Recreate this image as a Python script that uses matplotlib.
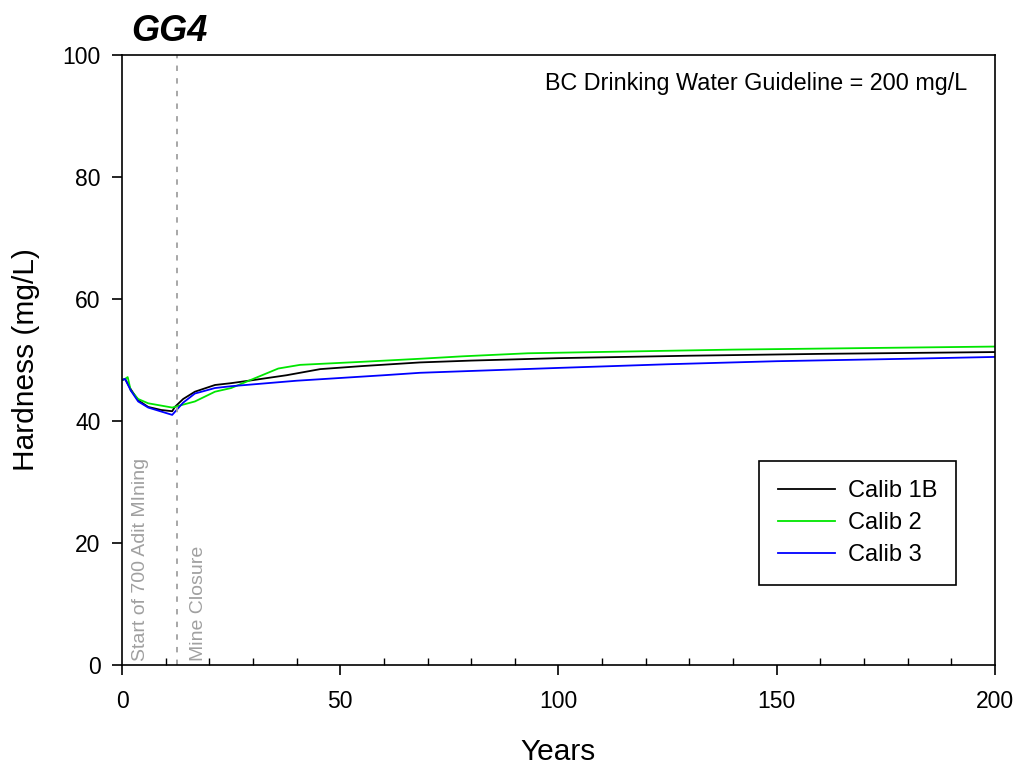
import matplotlib
matplotlib.use("Agg")
import matplotlib.pyplot as plt
from matplotlib.ticker import MultipleLocator

plt.rcParams['font.family'] = ['Liberation Sans', 'DejaVu Sans']

# hardness time series (years, mg/L)
years_1b = [0, 0.7, 2, 3.7, 6, 9, 11.5, 12.1, 14, 16.7, 21.3, 25, 30, 37.7, 45.4, 55, 68.3, 80, 100, 130, 160, 200]
hard_1b = [46.7, 46.9, 45.2, 43.4, 42.3, 41.8, 41.6, 42.3, 43.6, 44.8, 45.9, 46.2, 46.7, 47.5, 48.5, 49.0, 49.6, 49.9, 50.3, 50.7, 51.0, 51.3]

years_2 = [0, 0.7, 1.3, 2, 3.7, 6, 11.5, 16.7, 21.3, 25, 35.8, 40.8, 55, 68.3, 78, 93, 140, 200]
hard_2 = [46.7, 46.9, 47.2, 45.0, 43.6, 42.9, 42.2, 43.2, 44.8, 45.4, 48.6, 49.2, 49.7, 50.2, 50.6, 51.1, 51.7, 52.2]

years_3 = [0, 0.7, 2, 3.7, 6, 11.5, 14, 16.7, 21.3, 25, 40, 60, 68.3, 80, 100, 125, 150, 180, 200]
hard_3 = [46.7, 46.9, 45.0, 43.2, 42.2, 41.0, 43.0, 44.5, 45.4, 45.7, 46.6, 47.5, 47.9, 48.2, 48.7, 49.3, 49.8, 50.2, 50.5]

closure_year = 12.5

fig = plt.figure(figsize=(10.21, 7.71), dpi=100)
ax = fig.add_axes([0.1195, 0.1375, 0.855, 0.7912])

ax.plot(years_1b, hard_1b, color='black', lw=1.3, label='Calib 1B')
ax.plot(years_2, hard_2, color='#00e600', lw=1.3, label='Calib 2')
ax.plot(years_3, hard_3, color='#0000ff', lw=1.3, label='Calib 3')

ax.axvline(closure_year, color='#a0a0a0', ls=(0, (3, 4)), lw=1.3)
ax.text(4.3, 0.6, 'Start of 700 Adit MIning', rotation=90, color='#a0a0a0',
        fontsize=14, ha='center', va='bottom')
ax.text(17.5, 0.6, 'Mine Closure', rotation=90, color='#a0a0a0',
        fontsize=14, ha='center', va='bottom')
ax.text(193.6, 95.4, 'BC Drinking Water Guideline = 200 mg/L', fontsize=16.8,
        ha='right', va='center')

ax.set_xlim(0, 200)
ax.set_ylim(0, 100)
ax.xaxis.set_major_locator(MultipleLocator(50))
ax.xaxis.set_minor_locator(MultipleLocator(10))
ax.yaxis.set_major_locator(MultipleLocator(20))
ax.tick_params(axis='both', which='major', direction='out', length=7, width=1.2,
               labelsize=16.5, pad=11)
ax.tick_params(axis='x', which='minor', direction='in', length=5, width=1.0)
ax.tick_params(axis='y', which='major', pad=8.5)
for sp in ax.spines.values():
    sp.set_linewidth(1.2)

ax.set_xlabel('Years', fontsize=21.5, labelpad=18)
ax.set_ylabel('Hardness (mg/L)', fontsize=21.5, labelpad=16)
ax.text(0.011, 1.01, 'GG4', transform=ax.transAxes, fontsize=26,
        fontweight='bold', fontstyle='italic', ha='left', va='bottom')

leg = ax.legend(loc='upper left', bbox_to_anchor=(0.73, 0.334), borderaxespad=0,
                fontsize=17, frameon=True, fancybox=False, edgecolor='black',
                framealpha=1, handlelength=2.4, borderpad=0.8, labelspacing=0.42,
                handletextpad=0.55)
leg.get_frame().set_linewidth(1.2)

fig.savefig('out.png', dpi=100)
